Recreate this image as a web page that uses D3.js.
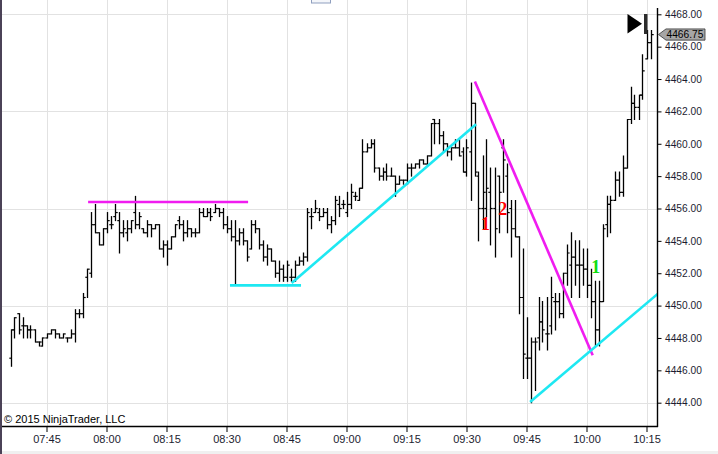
<!DOCTYPE html>
<html><head><meta charset="utf-8">
<script src="https://cdn.jsdelivr.net/npm/d3@7/dist/d3.min.js"></script>
<style>
body{margin:0;background:#fff;}
svg{display:block;font-family:"Liberation Sans",Arial,sans-serif;}
</style>
</head><body>
<svg id="chart" width="718" height="454"></svg>
<script>
// ---------- DATA ----------
const firstBarTime = "07:36:00";   // 1-minute bars
const opens = [4446.75,4448.5,4449.5,4448.75,4448.75,4448.5,4448.5,4447.75,4447.5,4448,
4448.25,4448.5,4448.25,4448,4448,4448,4448.25,4449.5,4449.5,4451.75,
4452,4455,4454.5,4453.75,4454.75,4455,4455.5,4455.25,4454.5,4454.5,
4454.75,4455.75,4455,4454.75,4454.5,4455,4454.75,4455,4453.5,4453.75,
4453.5,4454.25,4455.25,4455,4454.5,4454.75,4454.5,4454.5,4455.75,4455.5,
4455.75,4455.75,4456,4455.75,4455,4454.75,4454.25,4454,4454.5,4454,
4453.5,4455,4454.75,4453.75,4453,4453.5,4452.75,4452,4452.25,4451.75,
4451.75,4451.75,4452.5,4452.75,4453,4455.5,4455.75,4455.75,4455.5,4455.75,
4455,4455.25,4456.25,4456.25,4455.75,4456.25,4456.75,4456.5,4457.25,4459.5,
4459.75,4460,4458.5,4458,4458.25,4458,4458,4457.5,4457.75,4457.75,
4458.5,4458.5,4458.75,4459,4458.75,4459.25,4461.5,4461.25,4460.5,4460,
4459.5,4459.75,4459.75,4459.5,4458.25,4459.5,4462.5,4458,4456,4456,
4457,4456,4458,4459.75,4458,4456,4454.75,4454.25,4450.5,4446.75,
4446.75,4447.75,4448,4449,4448.25,4448.75,4450.25,4450.25,4449.5,4452,
4452.5,4453,4452.5,4452.5,4452.25,4451.25,4450.25,4448.5,4450.25,4455,
4456.25,4456.5,4457.75,4457,4458.5,4461.5,4462.5,4462.25,4463,4465.25,
4466.25];
const highs = [4448.5,4449.25,4449.5,4449.25,4448.75,4448.75,4448.5,4447.75,4448,4448.25,
4448.5,4448.5,4448.25,4448.25,4448,4448.5,4449.75,4449.75,4450.75,4452.25,
4455.75,4456.25,4454.5,4454.75,4455.75,4455.5,4456.25,4455.75,4455.25,4455.25,
4455.25,4456.75,4455.75,4454.75,4455.25,4455,4455,4455,4454,4454,
4454.25,4455,4455.5,4455.25,4455.25,4454.75,4454.75,4456,4456,4456,
4456,4456.25,4456,4456,4455.5,4455.25,4455.25,4454.75,4454.75,4454,
4455.25,4455.25,4454.75,4454,4453.75,4453.5,4452.75,4452.75,4452.5,4452.75,
4452.25,4452.75,4453,4453.25,4456,4456,4456.5,4456,4456,4456,
4455.5,4456.75,4456.75,4456.5,4457,4457.5,4457,4457.25,4460.25,4460,
4460.25,4460.25,4458.5,4458.5,4458.75,4458.5,4458,4458,4457.75,4458.75,
4458.75,4458.75,4459,4459,4459.25,4461.25,4461.5,4461.5,4460.75,4460,
4459.75,4460.25,4460.25,4459.75,4460.25,4463.75,4462.5,4458.25,4459.25,4460.25,
4458.5,4458.5,4458,4460.25,4458.75,4456.5,4456.5,4454.25,4453.5,4449.25,
4448,4448,4450.5,4450.25,4450.5,4451.75,4450.75,4450.75,4452,4453.75,
4454.5,4454,4454,4453.5,4453.5,4452.25,4451.5,4451.5,4455,4456.75,
4456.75,4458.25,4458.25,4459.25,4461.5,4463.5,4463,4463,4465.5,4467,
4467];
const lows = [4446.25,4448,4448.25,4448,4448,4448,4447.75,4447.5,4447.5,4448,
4448.25,4448,4448,4448,4447.75,4448,4447.75,4449.25,4449.25,4450.5,
4451.75,4454.5,4453.75,4453.75,4454.5,4454.75,4455.25,4453.25,4454.25,4454,
4454.5,4454.75,4454.75,4454.5,4454.25,4454.25,4454.75,4453.5,4453,4452.5,
4453.5,4454.25,4454.75,4454,4454.25,4454.25,4454.25,4454.5,4455.5,4455.5,
4455.25,4455.75,4455.5,4454.75,4454.5,4454,4451.25,4453.75,4453.75,4452.75,
4453.5,4454.5,4453.5,4452.75,4452.5,4452.75,4451.75,4451.5,4451.5,4451.5,
4451.5,4451.5,4452.5,4452.5,4452.75,4454.75,4455.75,4455.25,4455.5,4454.75,
4454.5,4455,4455.5,4456,4455.5,4456,4456.5,4456.5,4457.25,4459.5,
4459.75,4458.25,4457.75,4457.75,4457.75,4458,4456.75,4457.5,4457.5,4457.5,
4458,4458.5,4458.5,4458.75,4458.75,4459.25,4460,4460,4459.5,4459.25,
4459,4459.75,4459.25,4458.25,4458,4456.5,4458,4454,4454.75,4455.5,
4453.75,4453,4454.5,4457,4454.5,4453,4454.25,4449.5,4445.5,4445.5,
4444,4444.75,4447.25,4447.75,4447.25,4448.25,4448.5,4449.25,4449.25,4451.25,
4450.5,4451.25,4450.5,4451.25,4450.5,4449.25,4447.5,4447.5,4450.25,4454.25,
4454.5,4456.5,4456.75,4456.75,4458.5,4461.25,4461.5,4461.5,4462.75,4465.25,
4465.25];
const closes = [4448.5,4449.25,4448.5,4448.75,4448.5,4448.5,4447.75,4447.75,4448,4448.25,
4448.5,4448.25,4448,4448.25,4448,4448.25,4449.5,4449.5,4450.5,4452.25,
4455,4454.5,4453.75,4454.75,4455.25,4455,4455.75,4454.5,4454.75,4454.75,
4455.25,4455,4455.5,4454.5,4455,4454.75,4455,4453.5,4453.75,4453.5,
4454.25,4455,4455,4454.5,4454.75,4454.5,4454.5,4455.75,4455.5,4455.75,
4455.5,4456,4455.75,4455,4454.75,4454.25,4454,4454.5,4454,4453,
4455,4454.75,4453.75,4453,4453.5,4452.75,4452,4452.25,4451.75,4452.5,
4451.75,4452.5,4452.75,4453,4455.75,4455.5,4456,4455.5,4455.75,4455,
4455.25,4456.5,4456,4456.25,4456.25,4457,4456.75,4457.25,4459.5,4459.75,
4460,4458.5,4458,4458.25,4458,4458,4457.5,4457.75,4457.75,4458.5,
4458.5,4458.75,4459,4458.75,4459.25,4461.25,4461.25,4460.5,4460,4459.5,
4459.75,4459.75,4459.25,4458.25,4459.75,4462.5,4458.25,4456,4457,4457.25,
4456,4454.75,4457,4459,4455.75,4454.75,4454.25,4450.5,4447,4446.75,
4447.75,4447.75,4449,4448.5,4448.25,4450.5,4450.25,4449.5,4452,4453.25,
4453,4452.5,4452.5,4452.25,4451.25,4450.25,4448.5,4450.25,4454.75,4456.25,
4456.5,4457.75,4457,4458.5,4461.5,4462.5,4462.25,4463,4464.5,4466.25,
4466.75];

const priceTicks = [4444,4446,4448,4450,4452,4454,4456,4458,4460,4462,4464,4466,4468];
const gridPrices = [4444,4450,4456,4462,4468];
const timeTicks = ["07:45","08:00","08:15","08:30","08:45","09:00","09:15","09:30","09:45","10:00","10:15"];
const lastPrice = 4466.75;

// drawing objects (time, price anchors)
const drawKinds  = ["magenta","cyan","cyan","magenta","cyanRay"];
const drawTimes  = [["07:55:24","08:35:24"],["08:30:52","08:48:38"],["08:46:18","09:32:24"],["09:32:06","10:01:33"],["09:45:54","10:17:06"]];
const drawPrices = [[4456.4,4456.4],[4451.25,4451.25],[4451.4,4461.2],[4463.85,4446.93],[4444.05,4450.58]];

const markTexts  = ["1","2","1"];
const markKinds  = ["red","red","green"];
const markTimes  = ["09:34:45","09:39:03","10:02:18"];
const markPrices = [4454.66,4455.59,4452.0];

const copyright = "\u00a9 2015 NinjaTrader, LLC";

// ---------- CHART ----------
const svg = d3.select("#chart");
const W = 718, H = 454;
const plotRight = 657.5, axisY = 426;
const pt = d3.timeParse("%H:%M:%S");
const pm = d3.timeParse("%H:%M");

const x = d3.scaleTime().domain([pm("07:45"), pm("10:15")]).range([46.5, 646.5]);
const y = d3.scaleLinear().domain([4444, 4468]).range([402.7, 14.3]);

const t0 = pt(firstBarTime);
const bars = opens.map((o,i)=>({t:d3.timeMinute.offset(t0,i),o,h:highs[i],l:lows[i],c:closes[i]}));

svg.append("rect").attr("width",W).attr("height",H).attr("fill","#fff");
svg.append("defs").append("clipPath").attr("id","plot")
  .append("rect").attr("x",2).attr("y",0).attr("width",plotRight-2).attr("height",axisY);

// grid
const grid = svg.append("g").attr("stroke","#e2e2e2").attr("stroke-width",1).attr("shape-rendering","crispEdges");
grid.selectAll("line.v").data(timeTicks.map(pm)).join("line")
  .attr("x1",d=>Math.round(x(d))+0.5).attr("x2",d=>Math.round(x(d))+0.5).attr("y1",0).attr("y2",axisY);
grid.selectAll("line.h").data(gridPrices).join("line").attr("class","h")
  .attr("x1",2).attr("x2",plotRight).attr("y1",d=>Math.round(y(d))+0.5).attr("y2",d=>Math.round(y(d))+0.5);

// OHLC bars
const gb = svg.append("g").attr("clip-path","url(#plot)").attr("stroke","#000");
const bx = d=>Math.round(x(d.t))+0.5;
gb.selectAll("line.hl").data(bars).join("line").attr("class","hl")
  .attr("x1",bx).attr("x2",bx).attr("y1",d=>y(d.h)-0.5).attr("y2",d=>y(d.l)+0.5).attr("stroke-width",1.3);
gb.selectAll("line.o").data(bars).join("line").attr("class","o")
  .attr("x1",d=>bx(d)-2.2).attr("x2",d=>bx(d)).attr("y1",d=>y(d.o)).attr("y2",d=>y(d.o)).attr("stroke-width",1.2);
gb.selectAll("line.c").data(bars).join("line").attr("class","c")
  .attr("x1",d=>bx(d)).attr("x2",d=>bx(d)+2.2).attr("y1",d=>y(d.c)).attr("y2",d=>y(d.c)).attr("stroke-width",1.2);

// drawings
const kindColor = {magenta:"#f01cf0",cyan:"#1ee8f2",cyanRay:"#1ee8f2"};
const gd = svg.append("g").attr("clip-path","url(#plot)");
drawKinds.forEach((k,i)=>{
  let x1 = x(pt(drawTimes[i][0])), y1 = y(drawPrices[i][0]);
  let x2 = x(pt(drawTimes[i][1])), y2 = y(drawPrices[i][1]);
  if (k==="cyanRay"){ const s=(y2-y1)/(x2-x1); const xe=x(pm("10:40")); y2 = y1 + s*(xe-x1); x2 = xe; }
  gd.append("line").attr("x1",x1).attr("y1",y1).attr("x2",x2).attr("y2",y2)
    .attr("stroke",kindColor[k]).attr("stroke-width",2.6);
});

// text markers
const markColor = {red:"#ff0000",green:"#10dd10"};
svg.append("g").selectAll("text").data(markTexts).join("text")
  .attr("x",(d,i)=>x(pt(markTimes[i]))).attr("y",(d,i)=>y(markPrices[i]))
  .attr("text-anchor","middle").attr("font-family","'Liberation Serif','DejaVu Serif',serif")
  .attr("font-size",18).attr("font-weight","bold")
  .attr("fill",(d,i)=>markColor[markKinds[i]]).text(d=>d);

// axes
const xa = svg.append("g").attr("transform",`translate(0,${axisY})`)
  .call(d3.axisBottom(x).tickValues(timeTicks.map(pm)).tickFormat(d3.timeFormat("%H:%M")).tickSize(6).tickPadding(3.5));
xa.select(".domain").remove();
xa.selectAll("line").attr("stroke","#000");
xa.selectAll("text").attr("font-size",11).attr("fill","#1c1c30").attr("font-family","'Liberation Sans',Arial,sans-serif");

const ya = svg.append("g").attr("transform",`translate(${plotRight},0)`)
  .call(d3.axisRight(y).tickValues(priceTicks).tickFormat(d3.format(".2f")).tickSize(4).tickPadding(3.5));
ya.select(".domain").remove();
ya.selectAll("line").attr("stroke","#000");
ya.selectAll("text").attr("font-size",10.2).attr("fill","#1c1c30").attr("font-family","'Liberation Sans',Arial,sans-serif");

svg.append("line").attr("x1",0).attr("x2",plotRight+0.5).attr("y1",axisY+0.5).attr("y2",axisY+0.5)
  .attr("stroke","#000").attr("stroke-width",1.4);
svg.append("line").attr("x1",plotRight).attr("x2",plotRight).attr("y1",8).attr("y2",axisY+1)
  .attr("stroke","#000").attr("stroke-width",1.4);

// last price marker
const ly = y(lastPrice);
svg.append("path")
  .attr("d",`M${plotRight+1},${ly} L${plotRight+8.5},${ly-5.6} L705,${ly-5.6} L705,${ly+5.6} L${plotRight+8.5},${ly+5.6} Z`)
  .attr("fill","#a6a6a6").attr("stroke","#333").attr("stroke-width",0.8);
svg.append("text").attr("x",666.5).attr("y",ly+3.6).attr("font-size",10.2).attr("fill","#000")
  .text(d3.format(".2f")(lastPrice));

// go-to-end icon
svg.append("path").attr("d","M627.5,14 L642,23.8 L627.5,33.5 Z").attr("fill","#000");
svg.append("rect").attr("x",644).attr("y",14).attr("width",3.5).attr("height",20).attr("fill","#2c2c2c");

// copyright
svg.append("text").attr("x",4).attr("y",423).attr("font-size",11).attr("fill","#000").text(copyright);

// frame decorations
svg.append("rect").attr("x",0).attr("y",0).attr("width",2).attr("height",H).attr("fill","#4b4257");
svg.append("rect").attr("x",2).attr("y",451).attr("width",W).attr("height",3).attr("fill","#f0f0f0");
svg.append("rect").attr("x",311.5).attr("y",-1).attr("width",19).attr("height",4).attr("fill","#f4f6fa").attr("stroke","#8f9fbf").attr("stroke-width",1);
</script>
</body></html>
